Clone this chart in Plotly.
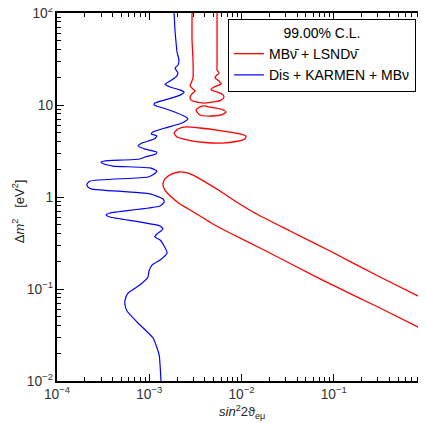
import plotly.graph_objects as go

# Dis + KARMEN + MBnu exclusion curve (sin^2 2theta, delta m^2)
blue_x = [1.86e-3, 1.90e-3, 1.95e-3, 2.00e-3, 2.10e-3, 2.05e-3, 1.90e-3, 2.05e-3, 1.95e-3, 1.68e-3,
          1.48e-3, 1.68e-3, 2.15e-3, 2.38e-3, 2.15e-3, 1.60e-3, 1.15e-3, 1.13e-3, 1.41e-3, 2.00e-3,
          2.50e-3, 2.63e-3, 2.27e-3, 1.48e-3, 1.10e-3, 1.05e-3, 1.21e-3, 1.13e-3, 8.35e-4, 7.55e-4,
          9.00e-4, 1.21e-3, 1.18e-3, 9.00e-4, 7.94e-4, 3.23e-4, 3.00e-4, 3.23e-4, 4.05e-4, 1.02e-3,
          1.21e-3, 1.13e-3, 9.69e-4, 2.28e-4, 2.11e-4, 2.17e-4, 2.40e-4, 1.02e-3, 1.41e-3, 1.45e-3,
          1.31e-3, 3.75e-4, 3.40e-4, 3.75e-4, 1.31e-3, 1.41e-3, 1.21e-3, 1.15e-3, 1.31e-3, 1.41e-3,
          1.56e-3, 1.31e-3, 1.07e-3, 9.94e-4, 9.69e-4, 7.94e-4, 5.88e-4, 5.46e-4, 5.46e-4, 5.74e-4,
          7.36e-4, 1.10e-3, 1.28e-3, 1.31e-3, 1.34e-3]
blue_y = [100, 65.3, 48.4, 37.7, 30.8, 27.2, 25.2, 22.3, 20.2, 18.2,
          16.9, 15.7, 14.6, 13.8, 12.8, 11.6, 10.5, 10.0, 9.28, 8.19,
          7.41, 7.04, 6.37, 5.62, 5.09, 4.84, 4.60, 4.27, 3.86, 3.58,
          3.32, 3.08, 2.93, 2.72, 2.59, 2.46, 2.40, 2.28, 2.17, 2.07,
          1.92, 1.78, 1.65, 1.49, 1.38, 1.28, 1.22, 1.08, 0.951, 0.882,
          0.798, 0.670, 0.637, 0.606, 0.484, 0.449, 0.396, 0.367, 0.341, 0.308,
          0.246, 0.207, 0.182, 0.157, 0.135, 0.111, 0.0904, 0.0759, 0.0670, 0.0577,
          0.0438, 0.0293, 0.0192, 0.0149, 0.01]

# MBnubar + LSNDnubar allowed regions (99% C.L.)
red_a_x = [2.91e-3, 2.91e-3, 2.98e-3, 2.98e-3, 2.84e-3, 2.77e-3, 2.98e-3, 3.13e-3, 2.91e-3, 2.77e-3,
           2.84e-3, 3.21e-3, 3.92e-3, 5.03e-3, 6.00e-3, 6.46e-3, 6.15e-3, 5.03e-3, 4.67e-3, 5.03e-3,
           6.00e-3, 5.70e-3, 5.16e-3, 5.29e-3, 5.70e-3, 5.43e-3, 5.43e-3, 5.43e-3, 5.43e-3]
red_a_y = [100, 50.9, 30.8, 19.7, 17.3, 16.1, 14.9, 14.2, 13.2, 12.2,
           11.3, 10.8, 10.5, 10.8, 11.3, 12.2, 13.2, 14.2, 14.6, 15.7,
           16.9, 18.2, 19.7, 20.7, 22.3, 24.0, 27.2, 50.9, 100]

red_b_x = [3.21e-3, 3.73e-3, 4.79e-3, 6.15e-3, 6.79e-3, 6.15e-3, 4.56e-3, 3.55e-3, 3.21e-3]
red_b_y = [8.82, 9.75, 9.39, 8.93, 8.39, 7.88, 7.59, 7.79, 8.82]

red_c_x = [1.86e-3, 2.05e-3, 2.50e-3, 3.55e-3, 5.85e-3, 9.17e-3, 1.12e-2, 1.09e-2, 8.72e-3, 6.15e-3,
           4.02e-3, 2.63e-3, 2.00e-3, 1.86e-3]
red_c_y = [4.96, 5.48, 5.77, 5.62, 5.28, 4.90, 4.60, 4.27, 4.01, 3.86,
           3.91, 4.16, 4.49, 4.96]

red_d_x = [1.0, 0.317, 0.0911, 0.0336, 0.0133, 8.50e-3, 5.85e-3, 4.02e-3, 2.98e-3, 2.44e-3,
           2.10e-3, 1.76e-3, 1.56e-3, 1.45e-3, 1.41e-3, 1.48e-3, 1.68e-3, 2.15e-3, 2.77e-3, 3.55e-3,
           4.91e-3, 7.50e-3, 0.0159, 0.0709, 0.317, 1.0]
red_d_y = [0.0759, 0.135, 0.259, 0.427, 0.687, 0.905, 1.16, 1.46, 1.73, 1.85,
           1.87, 1.78, 1.65, 1.53, 1.35, 1.19, 1.03, 0.839, 0.722, 0.622,
           0.509, 0.406, 0.279, 0.129, 0.0622, 0.0350]

red_name = "MB\u03bd\u0304 + LSND\u03bd\u0304"
blue_name = "Dis + KARMEN + MB\u03bd"
legend_title = "99.00% C.L."
x_title = "<i>sin</i><sup>2</sup>2\u03d1<sub>e\u03bc</sub>"
y_title = "\u0394<i>m</i><sup>2</sup>   [eV<sup>2</sup>]"

FONT = "Liberation Sans, Arial, Helvetica, sans-serif"

fig = go.Figure()
red_sets = [(red_a_x, red_a_y), (red_b_x, red_b_y), (red_c_x, red_c_y), (red_d_x, red_d_y)]
for i, (xs, ys) in enumerate(red_sets):
    fig.add_trace(go.Scatter(
        x=xs, y=ys, mode="lines", name=red_name, legendgroup="red",
        showlegend=(i == 0),
        line=dict(color="#ff0000", width=1.3, shape="spline", smoothing=0.6),
    ))
fig.add_trace(go.Scatter(
    x=blue_x, y=blue_y, mode="lines", name=blue_name, legendgroup="blue",
    line=dict(color="#0000ff", width=1.2, shape="spline", smoothing=0.5),
))

axis_common = dict(
    type="log", dtick=1, tick0=0, exponentformat="power", automargin=False,
    ticklabeloverflow="allow",
    showline=True, linecolor="black", linewidth=1.5, mirror="allticks",
    ticks="inside", ticklen=7, tickwidth=1, tickcolor="black",
    minor=dict(ticks="inside", ticklen=4, tickwidth=1, tickcolor="black", showgrid=False),
    showgrid=False, zeroline=False,
    tickfont=dict(family=FONT, size=11, color="#333333"),
)

# the page body adds an 8px offset, so the figure is sized/margined to compensate
fig.update_layout(
    width=418, height=415,
    margin=dict(l=49, r=0, t=5, b=42, autoexpand=False),
    paper_bgcolor="white", plot_bgcolor="white",
    font=dict(family=FONT, size=12, color="black"),
    xaxis=dict(range=[-4, 0], **axis_common),
    yaxis=dict(range=[-2, 2], **axis_common),
    legend=dict(
        x=0.4634, y=0.984, xanchor="left", yanchor="top",
        bgcolor="white", bordercolor="black", borderwidth=1,
        font=dict(family=FONT, size=14, color="black"),
        title=dict(text=legend_title, side="top center", font=dict(family=FONT, size=14)),
        tracegroupgap=0,
    ),
    annotations=[
        dict(text=y_title, xref="paper", yref="paper", x=-0.105, y=0.462,
             xanchor="center", yanchor="middle", textangle=-90, showarrow=False,
             font=dict(family=FONT, size=13, color="#222222")),
        dict(text=x_title, xref="paper", yref="paper", x=0.5, y=-0.084,
             xanchor="center", yanchor="middle", showarrow=False,
             font=dict(family=FONT, size=13, color="#222222")),
    ],
)

fig.write_html("out.html")
